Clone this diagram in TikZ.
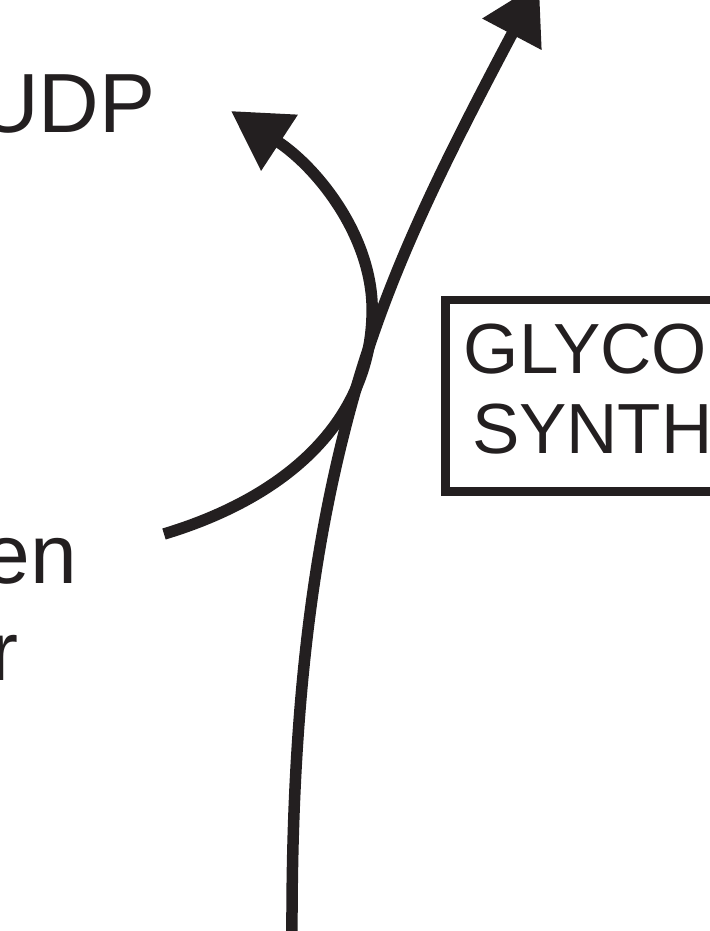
\documentclass[tikz,border=0pt]{standalone}
\usepackage{fontspec}
\setmainfont{Liberation Sans}
\usetikzlibrary{arrows.meta}
\definecolor{ink}{RGB}{35,31,32}
\tikzset{
  curve/.style={draw=ink, line width=11.5pt},
  bigarrow/.style={-{Triangle[width=64pt,length=58pt]}},
  lbl/.style={inner sep=0pt, text=ink, font=\fontsize{84}{97}\selectfont},
  boxlbl/.style={inner sep=0pt, text=ink, font=\fontsize{71}{80}\selectfont},
  framebox/.style={draw=ink, line width=8.5pt, inner sep=0pt, anchor=north west}
}
\begin{document}
\begin{tikzpicture}[x=1pt, y=-1pt]
\useasboundingbox (0,0) rectangle (709,931);
\fill[white] (0,0) rectangle (709,931);

% labels (partly cut by the frame of the picture)
\node[lbl, anchor=base west] (udp) at (-22,132) {UDP};
\node[lbl, anchor=base east] (en) at (77.5,583) {en};
\node[lbl, anchor=base east] (r) at (18.5,680) {r};

% box
\node[framebox, minimum width=360pt, minimum height=191.5pt] (box) at (441,295.5) {};
\node[boxlbl, anchor=base west] (glyco) at (463.6,373) {GLYCO};
\node[boxlbl, anchor=base west] (synth) at (471.8,453) {SYNTH};

% long curve
\coordinate (l0) at (292,940);
\coordinate (lm) at (350,410);
\coordinate (ltip) at (539,-17);
\draw[curve, bigarrow] (l0) .. controls (291,700) and (315,540) .. (lm)
  .. controls (385,280) and (440,170) .. (ltip);

% short curve
\coordinate (s0) at (164,534);
\coordinate (sm) at (372,318);
\coordinate (stip) at (231,111);
\draw[curve, bigarrow] (s0) .. controls (290,496) and (368,420) .. (sm)
  .. controls (376,240) and (318,168) .. (stip);
\end{tikzpicture}
\end{document}
